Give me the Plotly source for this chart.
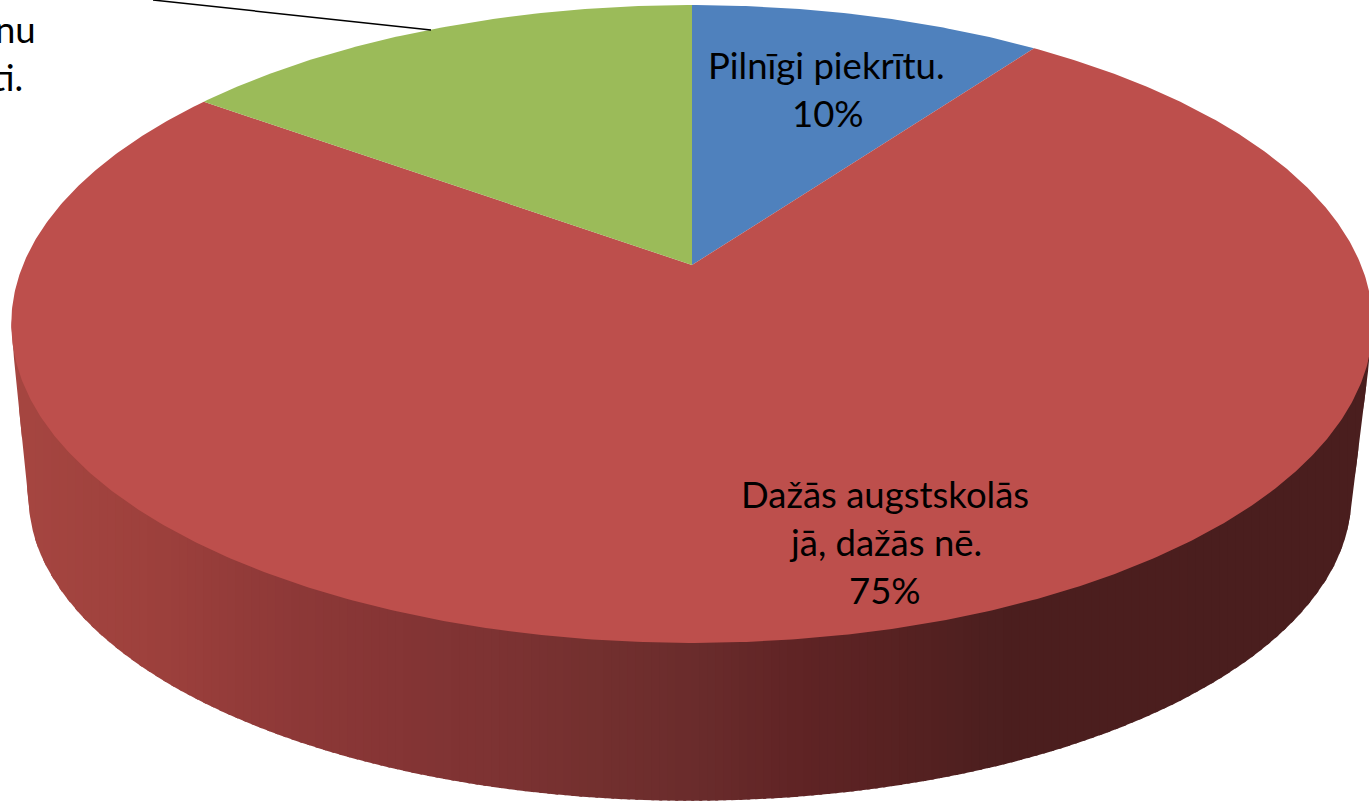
import numpy as np
import plotly.graph_objects as go

categories = ["Pilnīgi piekrītu.", "Dažās augstskolās jā, dažās nē.", "Nepiekrītu"]
values = [10, 75, 15]
slice_colors = ["#4f81bd", "#bd4f4c", "#9bbb59"]

# Side-wall shading stops: horizontal position -> colour
wall_x = [20, 150, 290, 400, 500, 600, 700, 800, 900, 1000, 1369]
wall_rgb = [
    (166, 70, 65), (158, 65, 61), (142, 57, 56), (133, 53, 53), (125, 51, 51),
    (115, 48, 47), (106, 44, 44), (96, 36, 37), (87, 34, 34), (76, 31, 31), (74, 30, 30),
]

label_x = [826, 828, 885, 885, 885, 37, 24]
label_y = [65, 113, 494, 542, 590, 29, 77]
label_text = ["Pilnīgi piekrītu.", "10%", "Dažās augstskolās", "jā, dažās nē.", "75%", "nu", "ti."]
label_anchor = ["center", "center", "center", "center", "center", "right", "right"]

leader_x = [153, 431]
leader_y = [0, 30]

# Perspective projection of the pie's top and bottom faces
TOP = dict(cx=692, cy=265, a=669, b=308, k=0.185)
BOTTOM = dict(cx=690, cy=440, a=650, b=294, k=0.185)


def project(theta, cx, cy, a, b, k):
    w = 1 + k * np.cos(theta)
    return cx + a * np.sin(theta) / w, cy - b * np.cos(theta) / w


def lower_hull(xs, ys):
    pts = sorted(zip(xs.tolist(), ys.tolist()))
    hull = []
    for p in pts:
        # y grows downwards, so keep the largest y envelope
        while len(hull) >= 2:
            (x1, y1), (x2, y2) = hull[-2], hull[-1]
            if (x2 - x1) * (p[1] - y1) - (y2 - y1) * (p[0] - x1) >= 0:
                hull.pop()
            else:
                break
        hull.append(p)
    return np.array(hull)


fig = go.Figure()

# Side wall, as narrow shaded strips painted left to right, each overlapping the next
t = np.linspace(0, 2 * np.pi, 721)
tx, ty = project(t, **TOP)
bx, by = project(t, **BOTTOM)
hull = lower_hull(np.r_[tx, bx], np.r_[ty, by])
front = (ty > TOP["cy"] + 40)
order = np.argsort(tx[front])
fx, fy = tx[front][order], ty[front][order]

edges = np.arange(tx.min(), tx.max() + 8, 8)
for x0, x1 in zip(edges[:-1], edges[1:]):
    xs = np.linspace(x0, min(x1 + 3, tx.max()), 5)
    upper = np.interp(xs, fx, fy) - 4
    lower = np.interp(xs, hull[:, 0], hull[:, 1])
    mid = (x0 + x1) / 2
    rgb = [np.interp(mid, wall_x, [c[i] for c in wall_rgb]) for i in range(3)]
    color = "rgb(%d,%d,%d)" % tuple(rgb)
    fig.add_trace(go.Scatter(
        x=np.r_[xs, xs[::-1]], y=np.r_[upper, lower[::-1]],
        mode="lines", fill="toself", fillcolor=color,
        line=dict(color=color, width=0), hoverinfo="skip", showlegend=False,
    ))

# Top face, wedges from the values
start = 0.0
total = sum(values)
for name, value, color in zip(categories, values, slice_colors):
    end = start + value / total * 2 * np.pi
    th = np.linspace(start, end, max(int(value * 8), 30))
    x, y = project(th, **TOP)
    ax, ay = TOP["cx"], TOP["cy"]
    fig.add_trace(go.Scatter(
        x=np.r_[ax, x, ax], y=np.r_[ay, y, ay],
        mode="lines", fill="toself", fillcolor=color,
        line=dict(color=color, width=0), name=name, hoverinfo="name", showlegend=False,
    ))
    start = end

# Leader line
fig.add_trace(go.Scatter(
    x=leader_x, y=leader_y, mode="lines",
    line=dict(color="#000000", width=1.5), hoverinfo="skip", showlegend=False,
))

for lx, ly, txt, anchor in zip(label_x, label_y, label_text, label_anchor):
    fig.add_annotation(
        x=lx, y=ly, xref="x", yref="y", text=txt, showarrow=False,
        xanchor=anchor, yanchor="middle", borderpad=0,
        font=dict(family="Lato, Carlito, Calibri, sans-serif", size=36.5, color="#000000"),
    )

fig.update_layout(
    width=1369, height=803,
    margin=dict(l=0, r=0, t=0, b=0),
    paper_bgcolor="#ffffff", plot_bgcolor="#ffffff",
    showlegend=False,
    xaxis=dict(range=[0, 1369], visible=False, fixedrange=True),
    yaxis=dict(range=[803, 0], visible=False, fixedrange=True),
)

fig.write_html(
    "out.html",
    config=dict(displayModeBar=False),
    post_script="document.body.style.margin='0';document.body.style.overflow='hidden';",
)
